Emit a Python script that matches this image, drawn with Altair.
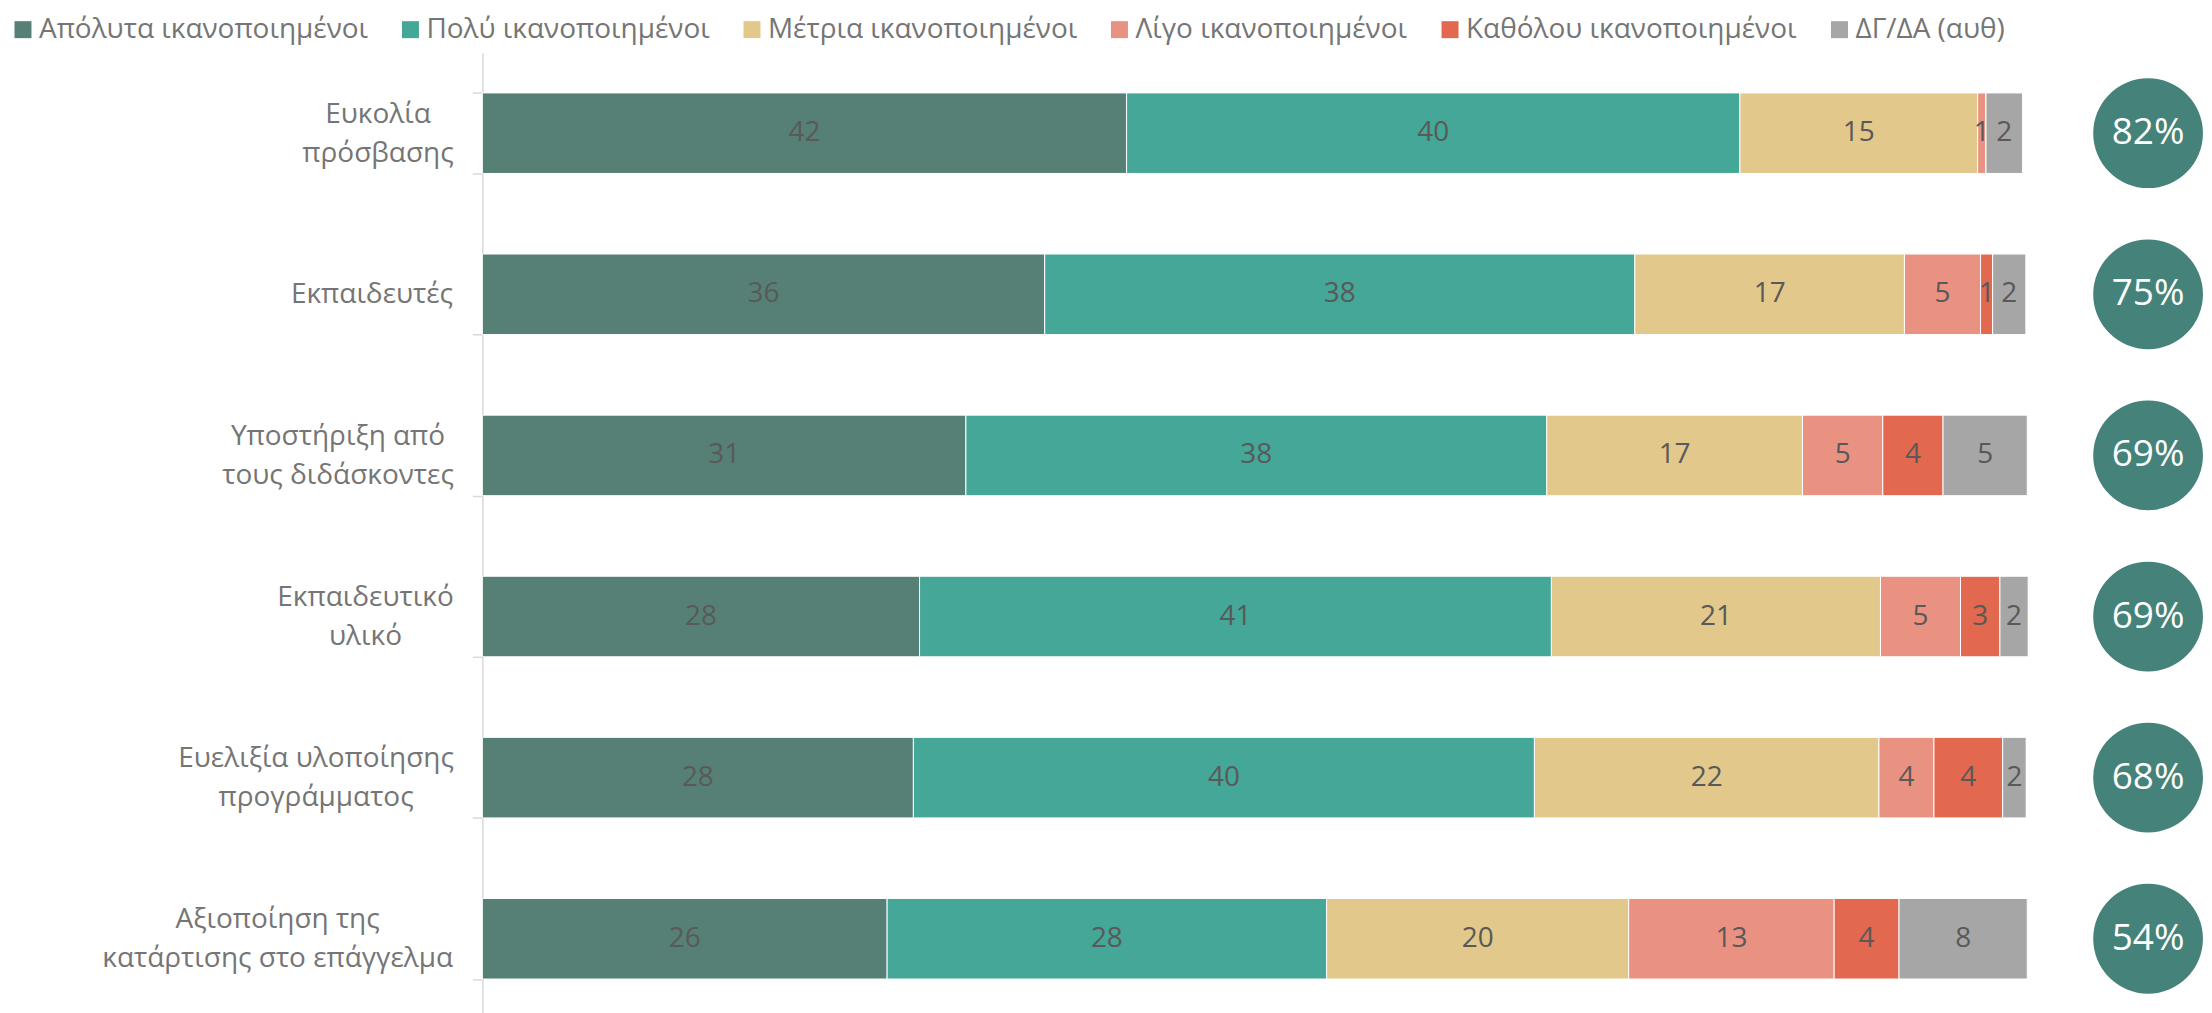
import json
import pandas as pd
import altair as alt

# ---------------- data ----------------
categories = [
    "Ευκολία|πρόσβασης",
    "Εκπαιδευτές",
    "Υποστήριξη από|τους διδάσκοντες",
    "Εκπαιδευτικό|υλικό",
    "Ευελιξία υλοποίησης|προγράμματος",
    "Αξιοποίηση της|κατάρτισης στο επάγγελμα",
]
series = [
    "Απόλυτα ικανοποιημένοι",
    "Πολύ ικανοποιημένοι",
    "Μέτρια ικανοποιημένοι",
    "Λίγο ικανοποιημένοι",
    "Καθόλου ικανοποιημένοι",
    "ΔΓ/ΔΑ (αυθ)",
]
apolyta = [41.7, 36.4, 31.3, 28.3, 27.9, 26.2]
poly = [39.7, 38.2, 37.6, 40.9, 40.2, 28.45]
metria = [15.39, 17.45, 16.55, 21.3, 22.3, 19.55]
ligo = [0.54, 4.93, 5.2, 5.18, 3.56, 13.3]
katholou = [0.0, 0.78, 3.9, 2.55, 4.45, 4.2]
dgda = [2.37, 2.15, 5.45, 1.83, 1.52, 8.3]
top2 = [82, 75, 69, 69, 68, 54]

colors = ["#568075", "#44A797", "#E2C88A", "#EA9282", "#E2684F", "#A6A6A6"]
circle_color = "#44827A"

values_by_series = [apolyta, poly, metria, ligo, katholou, dgda]
rows = []
for si, (s, vals) in enumerate(zip(series, values_by_series)):
    for c, v in zip(categories, vals):
        rows.append({"category": c, "series": s, "order": si, "value": v})
df = pd.DataFrame(rows)
dfc = pd.DataFrame({"category": categories, "top2": top2})

# ---------------- styling ----------------
FONT = "Open Sans"
label_centers = [377, 371, 337, 364.5, 315, 276.5]   # label block centres (px from left of page)
AXIS_X = 482
TICK = 10
paddings = [round(AXIS_X - TICK - c, 1) for c in label_centers]
pad_expr = f"{json.dumps(paddings)}[indexof({json.dumps(categories, ensure_ascii=False)}, datum.value)]"
single_line = [c for c in categories if "|" not in c]

yscale = alt.Scale(domain=categories, paddingInner=0.5, paddingOuter=0.25)
yaxis = alt.Axis(
    title=None,
    domainColor="#D9D9D9",
    domainWidth=1.5,
    tickColor="#D9D9D9",
    tickWidth=1.5,
    tickSize=TICK,
    tickBand="extent",
    labelFont=FONT,
    labelFontSize=28,
    labelColor="#757575",
    labelAlign="center",
    labelBaseline={
        "condition": {"test": f"datum.value == {json.dumps(single_line[0], ensure_ascii=False)}", "value": "middle"},
        "value": "line-bottom",
    },
    labelLineHeight=39,
    labelLimit=2000,
    labelOverlap=False,
    labelPadding=alt.ExprRef(expr=pad_expr),
    labelExpr="split(datum.label, '|')",
    grid=False,
)
Y = alt.Y("category:N", sort=categories, scale=yscale, axis=yaxis)
xscale = alt.Scale(domain=[0, 100], nice=False, zero=True)

base = alt.Chart(df).transform_stack(
    stack="value",
    groupby=["category"],
    sort=[alt.SortField(field="order", order="ascending")],
    as_=["x0", "x1"],
)

bars = base.mark_bar(stroke="white", strokeWidth=1).encode(
    y=Y,
    x=alt.X("x0:Q", scale=xscale, axis=None),
    x2="x1:Q",
    color=alt.Color(
        "series:N",
        sort=series,
        scale=alt.Scale(domain=series, range=colors),
        legend=alt.Legend(
            title=None,
            orient="none",
            legendX=-474,
            legendY=-37,
            direction="horizontal",
            symbolType="square",
            symbolSize=289,
            symbolStrokeWidth=0,
            labelFont=FONT,
            labelFontSize=28,
            labelColor="#757575",
            labelOffset=2,
            columnPadding=28,
            labelLimit=2000,
        ),
    ),
    order=alt.Order("order:Q"),
)

texts = (
    base.transform_filter("datum.value > 0")
    .transform_calculate(mid="(datum.x0 + datum.x1) / 2")
    .mark_text(font=FONT, fontSize=28, color="#595959", baseline="middle")
    .encode(
        y=Y,
        x=alt.X("mid:Q", scale=xscale, axis=None),
        text=alt.Text("value:Q", format=".0f"),
    )
)

bar_panel = alt.layer(bars, texts).properties(width=1547, height=968)

Yc = alt.Y("category:N", sort=categories, scale=yscale, axis=None)
circ = alt.Chart(dfc).mark_circle(size=12076, color=circle_color, opacity=1).encode(y=Yc)
circ_txt = (
    alt.Chart(dfc)
    .transform_calculate(lbl="datum.top2 + '%'")
    .mark_text(font=FONT, fontSize=37, color="white", baseline="middle")
    .encode(y=Yc, text="lbl:N")
)
circle_panel = alt.layer(circ, circ_txt).properties(width=100, height=968)

chart = (
    alt.hconcat(bar_panel, circle_panel, spacing=71, bounds="flush")
    .resolve_scale(y="shared")
    .properties(padding={"left": 1, "top": 7, "right": 0, "bottom": 0})
    .configure(font=FONT)
    .configure_view(stroke="transparent")
)

chart.save("out.html", embed_options={"renderer": "svg", "actions": False})
